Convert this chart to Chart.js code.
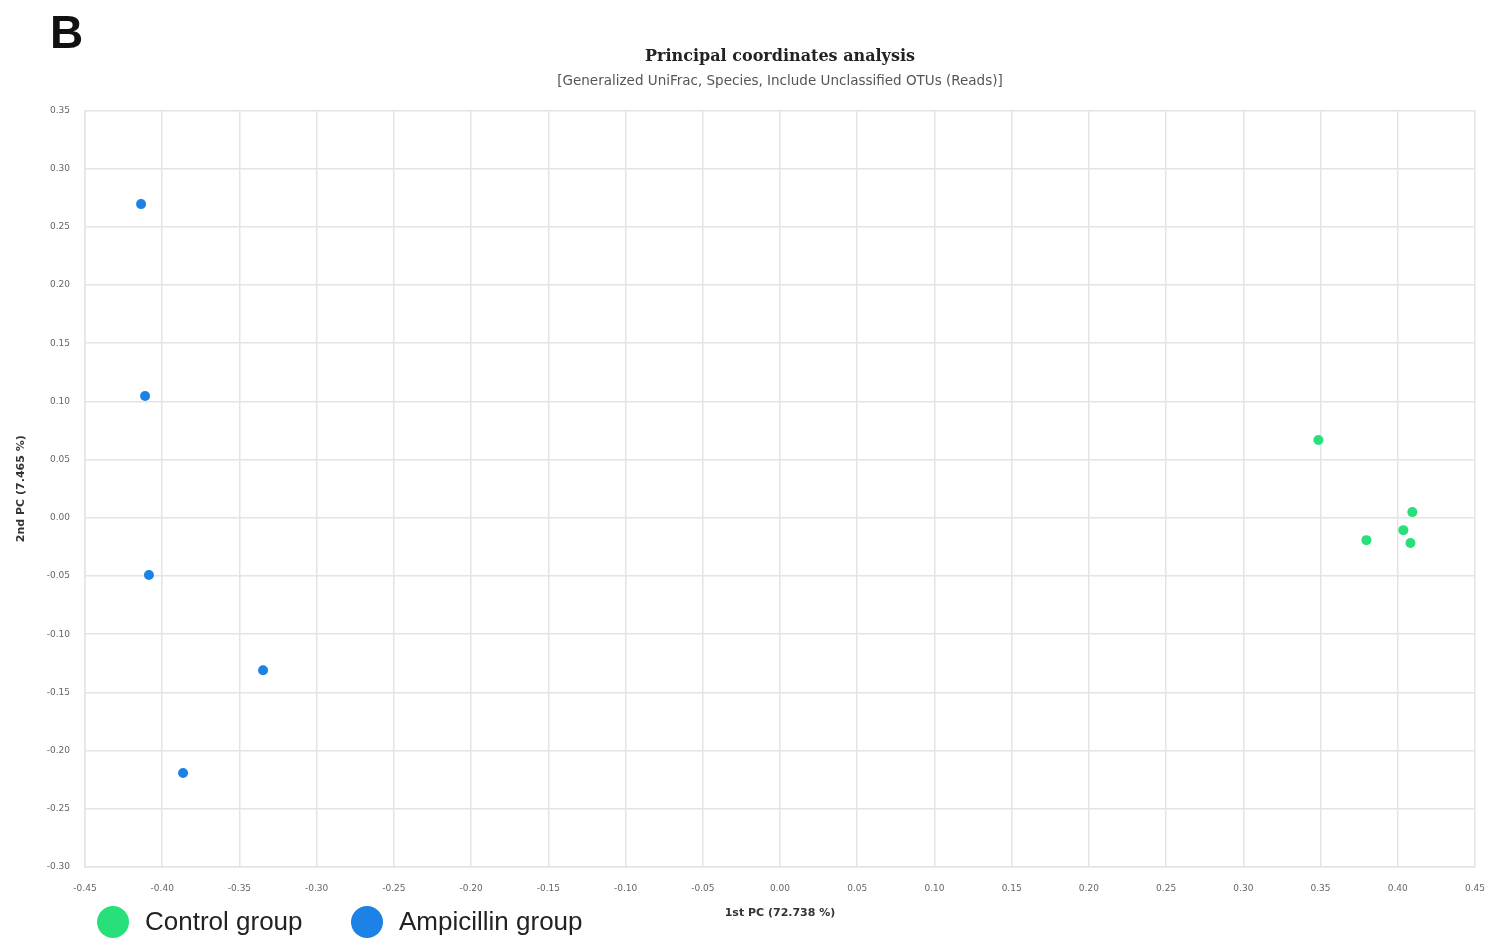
<!DOCTYPE html>
<html>
<head>
<meta charset="utf-8">
<script src="https://cdn.jsdelivr.net/npm/chart.js@4/dist/chart.umd.min.js"></script>
<style>
  html, body { margin: 0; padding: 0; background: #ffffff; }
  #wrap { position: relative; width: 1493px; height: 939px; }
  canvas { display: block; }
</style>
</head>
<body>
<div id="wrap"><canvas id="pcoa" width="1493" height="939"></canvas></div>
<script>
// PCoA coordinates (1st PC, 2nd PC) per sample
const controlX = [0.3486, 0.3797, 0.4094, 0.4036, 0.4082];
const controlY = [0.0668, -0.0192, 0.0049, -0.0106, -0.0217];
const ampicillinX = [-0.4137, -0.4111, -0.4086, -0.3347, -0.3865];
const ampicillinY = [0.2695, 0.1046, -0.0492, -0.1310, -0.2193];

const groupNames = ['Control group', 'Ampicillin group'];
const groupColors = ['#27e07a', '#1c82e6'];

const xRange = [-0.45, 0.45];
const yRange = [-0.30, 0.35];
const tickStep = 0.05;

const panelLetter = 'B';
const titleText = 'Principal coordinates analysis';
const subtitleText = '[Generalized UniFrac, Species, Include Unclassified OTUs (Reads)]';
const xTitle = '1st PC (72.738 %)';
const yTitle = '2nd PC (7.465 %)';

const toPoints = (xs, ys) => xs.map((x, i) => ({ x: x, y: ys[i] }));

// Panel letter in the top-left corner
const panelLetterPlugin = {
  id: 'panelLetter',
  afterDraw(chart) {
    const ctx = chart.ctx;
    ctx.save();
    ctx.fillStyle = '#111';
    ctx.font = 'bold 46px "Liberation Sans", Arial, sans-serif';
    ctx.textBaseline = 'alphabetic';
    ctx.textAlign = 'left';
    ctx.fillText(panelLetter, 50, 48);
    ctx.restore();
  }
};

// Large round legend markers along the bottom-left edge
const bottomLegendPlugin = {
  id: 'bottomLegend',
  afterDraw(chart) {
    const ctx = chart.ctx;
    const cy = 922;
    const slots = [113, 367];
    ctx.save();
    ctx.font = '26px "Liberation Sans", Arial, sans-serif';
    ctx.textBaseline = 'middle';
    ctx.textAlign = 'left';
    chart.data.datasets.forEach((ds, i) => {
      const cx = slots[i];
      ctx.beginPath();
      ctx.arc(cx, cy, 16, 0, Math.PI * 2);
      ctx.fillStyle = ds.backgroundColor;
      ctx.fill();
      ctx.fillStyle = '#222';
      ctx.fillText(ds.label, cx + 32, cy + 1);
    });
    ctx.restore();
  }
};

const fmt = v => Number(v).toFixed(2);

new Chart(document.getElementById('pcoa'), {
  type: 'scatter',
  data: {
    datasets: [
      {
        label: groupNames[0],
        data: toPoints(controlX, controlY),
        backgroundColor: groupColors[0],
        borderColor: groupColors[0],
        pointRadius: 5,
        pointBorderWidth: 0
      },
      {
        label: groupNames[1],
        data: toPoints(ampicillinX, ampicillinY),
        backgroundColor: groupColors[1],
        borderColor: groupColors[1],
        pointRadius: 5,
        pointBorderWidth: 0
      }
    ]
  },
  options: {
    responsive: false,
    animation: false,
    layout: { padding: { top: 47, right: 18, bottom: 0, left: 0 } },
    plugins: {
      legend: { display: false },
      tooltip: { enabled: false },
      title: {
        display: true,
        fullSize: false,
        text: titleText,
        color: '#222',
        font: { family: '"DejaVu Serif", serif', size: 16, weight: 'bold' },
        padding: { top: 0, bottom: 7 }
      },
      subtitle: {
        display: true,
        fullSize: false,
        text: subtitleText,
        color: '#555',
        font: { family: '"DejaVu Sans", sans-serif', size: 13.5 },
        padding: { top: 0, bottom: 21 }
      }
    },
    scales: {
      x: {
        type: 'linear',
        min: xRange[0],
        max: xRange[1],
        afterFit(scale) {
          scale.height = 72;
          scale.paddingLeft = 0;
          scale.paddingRight = 0;
        },
        ticks: {
          stepSize: tickStep,
          autoSkip: false,
          maxRotation: 0,
          padding: 16,
          color: '#666',
          font: { family: '"DejaVu Sans", sans-serif', size: 9 },
          callback: v => fmt(v)
        },
        grid: { color: '#e4e4e4', lineWidth: 1.5, drawTicks: false },
        border: { color: '#e4e4e4', width: 1.5 },
        title: {
          display: true,
          text: xTitle,
          color: '#333',
          font: { family: '"DejaVu Sans", sans-serif', size: 11, weight: 'bold' },
          padding: { top: 0, bottom: 19 }
        }
      },
      y: {
        type: 'linear',
        min: yRange[0],
        max: yRange[1],
        afterFit(scale) {
          scale.width = 85;
          scale.paddingTop = 0;
          scale.paddingBottom = 0;
        },
        ticks: {
          stepSize: tickStep,
          autoSkip: false,
          padding: 15,
          color: '#666',
          font: { family: '"DejaVu Sans", sans-serif', size: 9 },
          callback: v => fmt(v)
        },
        grid: { color: '#e4e4e4', lineWidth: 1.5, drawTicks: false },
        border: { color: '#e4e4e4', width: 1.5 },
        title: {
          display: true,
          text: yTitle,
          color: '#333',
          font: { family: '"DejaVu Sans", sans-serif', size: 11, weight: 'bold' },
          padding: { top: 15, bottom: 0 }
        }
      }
    }
  },
  plugins: [panelLetterPlugin, bottomLegendPlugin]
});
</script>
</body>
</html>
